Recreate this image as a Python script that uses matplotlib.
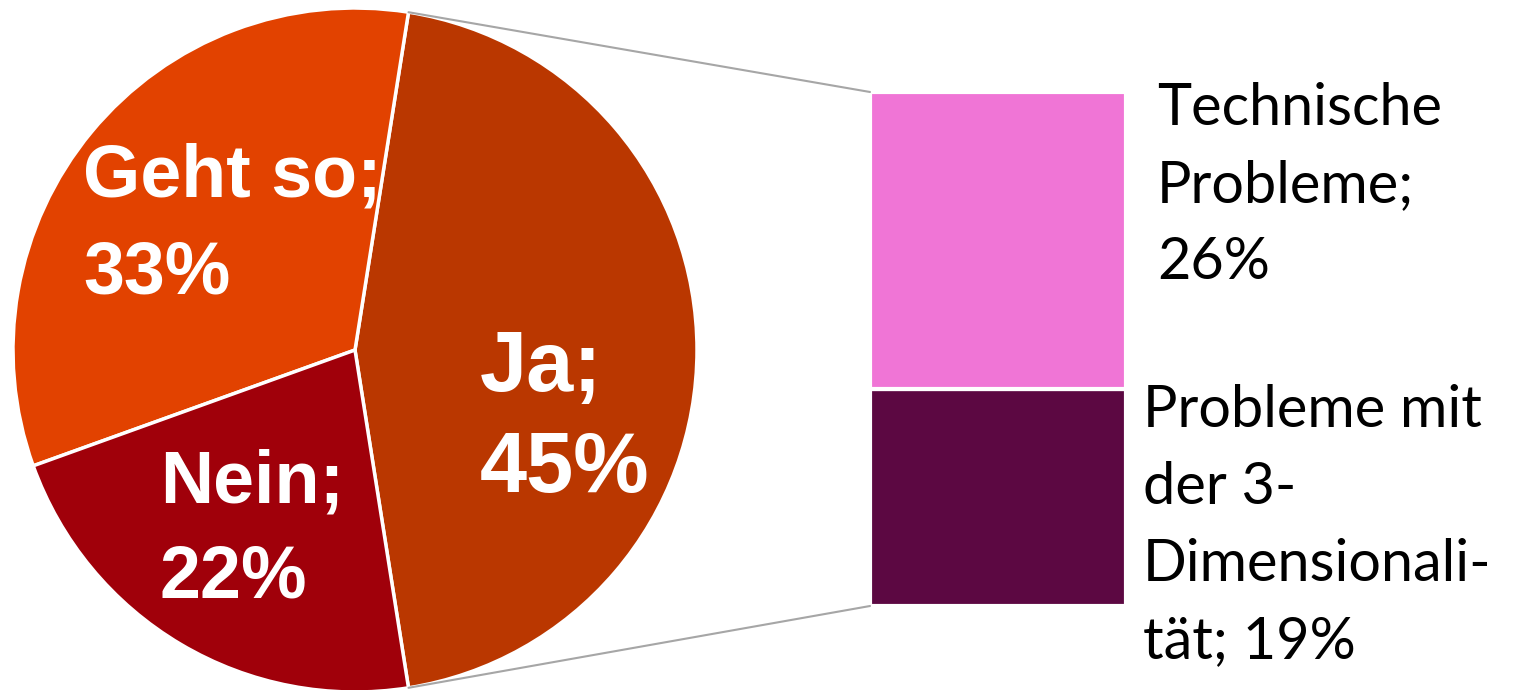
import matplotlib
matplotlib.use("Agg")
import matplotlib.pyplot as plt
from matplotlib.patches import ConnectionPatch
import numpy as np

# ---- data ----
pie_labels = ["Ja", "Geht so", "Nein"]
pie_values = [45, 33, 22]
pie_colors = ["#BA3700", "#E24200", "#A0000A"]

bar_labels = ["Probleme mit der 3-Dimensionalität", "Technische Probleme"]
bar_values = [19, 26]
bar_colors = ["#5C0842", "#F075D6"]

W, H = 1514, 690
fig = plt.figure(figsize=(W / 100, H / 100), dpi=100)
ax = fig.add_axes([0, 0, 1, 1])

cx, cy, r = 355, H - 350, 342
total = sum(pie_values)
start = -pie_values[0] / total * 360 / 2
wedges, _ = ax.pie(pie_values, colors=pie_colors, startangle=start, counterclock=True,
                   center=(cx, cy), radius=r, frame=True,
                   wedgeprops=dict(edgecolor="white", linewidth=2.5))
ax.set_xlim(0, W)
ax.set_ylim(0, H)
ax.set_aspect("equal")
ax.axis("off")

# pie labels: (left x, baseline y of first line, line gap, font size) in pixels
pie_text_pos = {"Ja": (480, 391, 101, 61), "Geht so": (83, 197, 96, 53), "Nein": (160, 502, 96, 53)}
for lab, val in zip(pie_labels, pie_values):
    x, y, gap, fs = pie_text_pos[lab]
    ax.text(x, H - y, f"{lab};", color="white", fontsize=fs, fontweight="bold",
            family="Liberation Sans", ha="left", va="baseline")
    ax.text(x, H - y - gap, f"{val}%", color="white", fontsize=fs, fontweight="bold",
            family="Liberation Sans", ha="left", va="baseline")

# bar of pie
bx0, bx1 = 870, 1126
by_bottom, by_top = 606, 92
bax = fig.add_axes([bx0 / W, (H - by_bottom) / H, (bx1 - bx0) / W, (by_bottom - by_top) / H])
bax.set_xlim(-0.5, 0.5)
bax.set_ylim(0, sum(bar_values))
bax.axis("off")
bottom = 0
for v, c in zip(bar_values, bar_colors):
    bax.bar(0, v, width=1.0, bottom=bottom, color=c, edgecolor="white", linewidth=3)
    bottom += v

# connector lines
a1 = np.deg2rad(start + pie_values[0] / total * 360)
a0 = np.deg2rad(start)
for ang, ycorner in [(a1, sum(bar_values)), (a0, 0)]:
    p = (cx + r * np.cos(ang), cy + r * np.sin(ang))
    con = ConnectionPatch(xyA=p, coordsA=ax.transData, xyB=(-0.5, ycorner), coordsB=bax.transData,
                          color="#A6A6A6", linewidth=1.5)
    fig.add_artist(con)

# bar labels, split into lines
bar_text_lines = {
    "Technische Probleme": (["Technische", "Probleme;", "26%"], 1157, 125),
    "Probleme mit der 3-Dimensionalität": (["Probleme mit", "der 3-", "Dimensionali-", "tät; 19%"], 1143, 427),
}
for lab, val in zip(bar_labels, bar_values):
    lines, x, y0 = bar_text_lines[lab]
    for i, ln in enumerate(lines):
        ax.text(x, H - (y0 + i * 77), ln, color="black", fontsize=41.5, family="Lato",
                ha="left", va="baseline")

fig.savefig("out.png", dpi=100)
